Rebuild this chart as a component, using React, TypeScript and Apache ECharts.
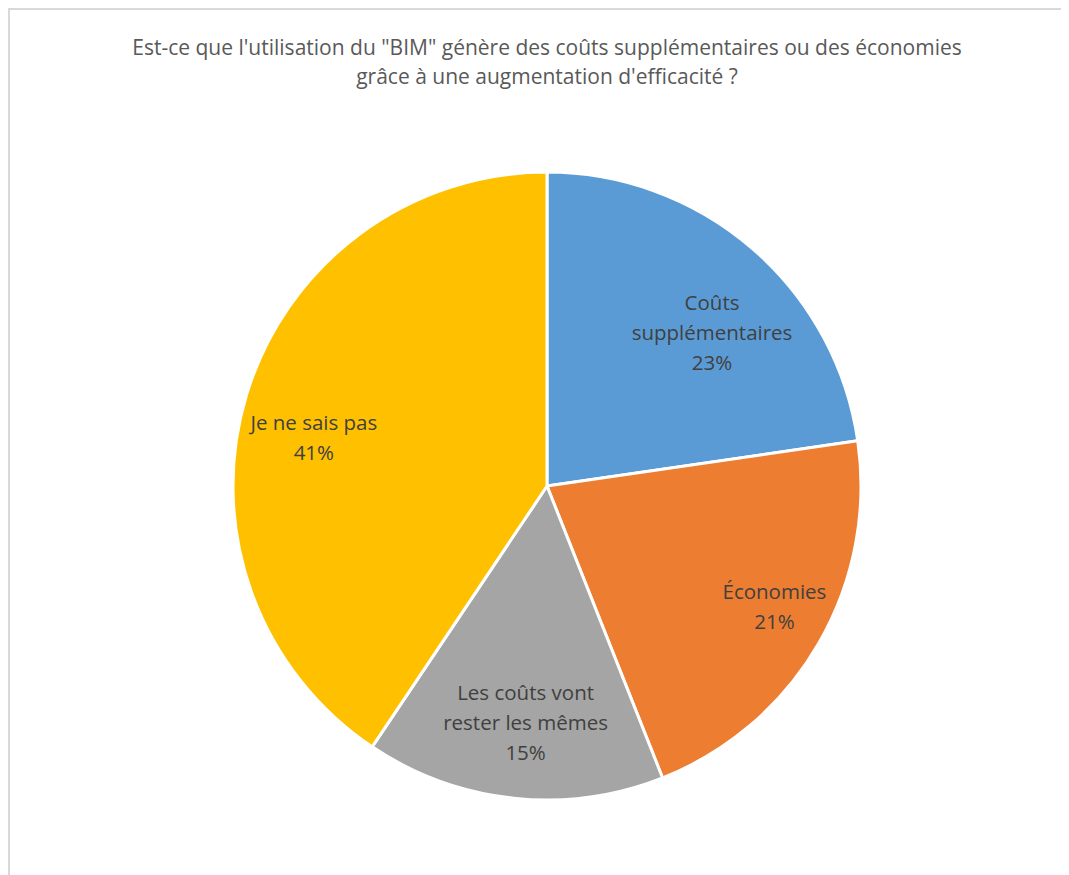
import React, { useEffect, useRef } from "react";
import * as echarts from "echarts";

const titleText =
  'Est-ce que l\'utilisation du "BIM" génère des coûts supplémentaires ou des économies\ngrâce à une augmentation d\'efficacité ?';
const categories = [
  "Coûts supplémentaires",
  "Économies",
  "Les coûts vont rester les mêmes",
  "Je ne sais pas",
];
const labelLines = [
  "Coûts\nsupplémentaires",
  "Économies",
  "Les coûts vont\nrester les mêmes",
  "Je ne sais pas",
];
const values = [22.7, 21.3, 15.4, 40.6];
const colors = ["#5B9BD5", "#ED7D31", "#A5A5A5", "#FFC000"];
const labelNudges = [
  [9, 26],
  [21, 1],
  [4, -1],
  [-5, 20],
];

const FONT = "'Open Sans', sans-serif";

export default function App() {
  const ref = useRef<HTMLDivElement>(null);
  useEffect(() => {
    document.body.style.overflow = "hidden";
    const chart = echarts.init(ref.current!, null, { renderer: "svg" });
    const cx = 537;
    const cy = 476;
    const R = 314;
    chart.setOption({
      animation: false,
      backgroundColor: "#ffffff",
      graphic: [
        {
          type: "text",
          x: cx,
          y: 22,
          style: {
            text: titleText,
            fontFamily: FONT,
            fontSize: 21,
            lineHeight: 29,
            fill: "#595959",
            align: "center",
            verticalAlign: "top",
          },
        },
      ],
      series: [
        {
          type: "pie",
          center: [cx, cy],
          radius: [0, R],
          startAngle: 90,
          clockwise: true,
          label: { show: false },
          labelLine: { show: false },
          itemStyle: { borderColor: "#ffffff", borderWidth: 3 },
          emphasis: { disabled: true },
          data: categories.map((c, i) => ({
            name: c,
            value: values[i],
            itemStyle: { color: colors[i] },
          })),
        },
        {
          type: "pie",
          center: [cx, cy],
          radius: [R * 0.5, R],
          startAngle: 90,
          clockwise: true,
          silent: true,
          itemStyle: { color: "rgba(0,0,0,0)", borderWidth: 0 },
          label: {
            show: true,
            position: "inside",
            fontFamily: FONT,
            fontSize: 20.5,
            lineHeight: 30,
            color: "#404040",
            align: "center",
            formatter: (p: any) =>
              labelLines[p.dataIndex] + "\n" + Math.round(values[p.dataIndex]) + "%",
          },
          labelLine: { show: false },
          emphasis: { disabled: true },
          data: categories.map((c, i) => ({
            name: c,
            value: values[i],
            label: { offset: labelNudges[i] },
          })),
        },
      ],
    });
    return () => chart.dispose();
  }, []);
  return (
    <div
      style={{
        width: 1061,
        height: 867,
        borderLeft: "2px solid #d9d9d9",
        borderTop: "2px solid #d9d9d9",
        boxSizing: "border-box",
      }}
    >
      <div ref={ref} style={{ width: 1059, height: 865 }} />
    </div>
  );
}
